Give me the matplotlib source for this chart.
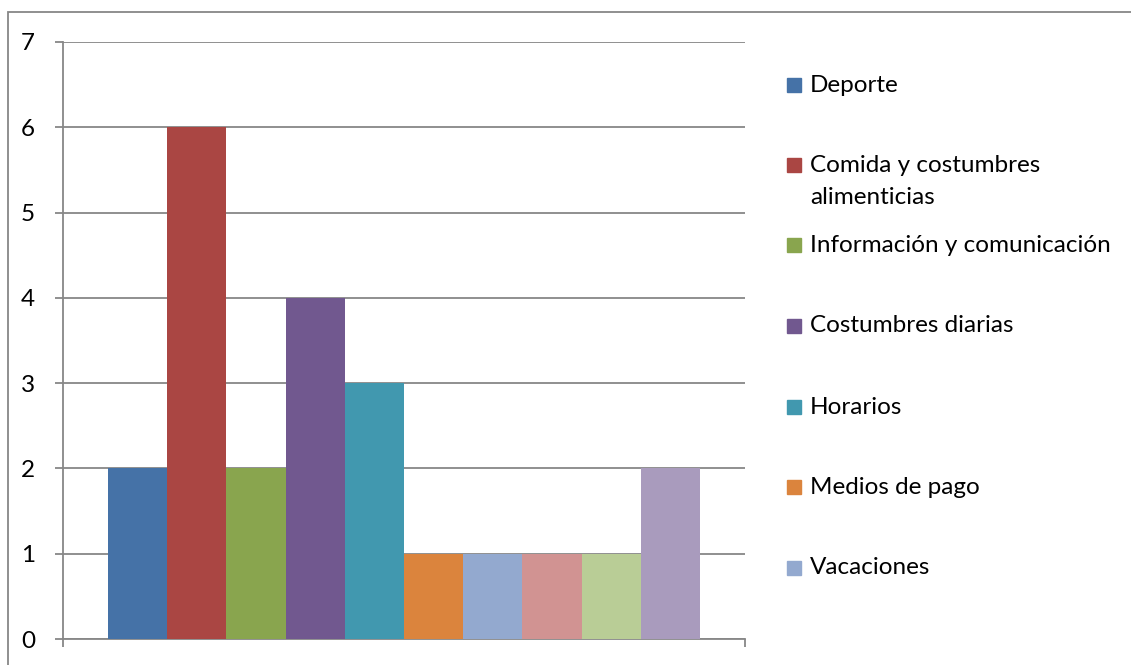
import matplotlib
matplotlib.use("Agg")
import matplotlib.pyplot as plt
from matplotlib.patches import Rectangle
import numpy as np

plt.rcParams['font.family'] = ['Lato', 'DejaVu Sans']

# one bar per topic, counts
values = [2, 6, 2, 4, 3, 1, 1, 1, 1, 2]
colors = ['#4572A7', '#AA4643', '#89A54E', '#71588F', '#4198AF',
          '#DB843D', '#93A9CF', '#D19392', '#B9CD96', '#A99BBD']
legend_labels = ['Deporte', 'Comida y costumbres\nalimenticias',
                 'Información y comunicación', 'Costumbres diarias',
                 'Horarios', 'Medios de pago', 'Vacaciones']
yticks = [0, 1, 2, 3, 4, 5, 6, 7]

W, H = 1131, 665
fig = plt.figure(figsize=(W / 100, H / 100), dpi=100)
ax = fig.add_axes([63 / W, 1 - 639 / H, (745 - 63) / W, (639 - 42) / H])

grey = '#878787'
fs = 17.5
x = np.arange(len(values))
ax.bar(x, values, width=1.0, color=colors, zorder=3)

ax.set_xlim(-1.26, len(values) - 1 + 1.26)
ax.set_ylim(0, 7)
ax.set_yticks(yticks)
ax.yaxis.grid(True, color=grey, lw=1.3, zorder=0)
ax.set_xticks(ax.get_xlim())
ax.set_xticklabels([])

for s in ['top', 'right']:
    ax.spines[s].set_visible(False)
for s in ['left', 'bottom']:
    ax.spines[s].set_color(grey)
    ax.spines[s].set_linewidth(1.3)
ax.tick_params(axis='y', direction='out', length=6, width=1.3, color=grey,
               pad=14, labelsize=fs)
ax.tick_params(axis='x', direction='out', length=6, width=1.3, color=grey)

# legend drawn by hand so every entry keeps the same row pitch
rows_y = [85, 165, 245, 326, 407, 487, 568]
for lab, c, yy in zip(legend_labels, colors, rows_y):
    fig.patches.append(Rectangle((787 / W, 1 - (yy + 7) / H), 14 / W, 14 / H,
                                 transform=fig.transFigure, color=c))
    for i, line in enumerate(lab.split('\n')):
        fig.text(810 / W, 1 - (yy + 32 * i) / H, line, fontsize=fs,
                 va='center', ha='left')

# outer chart frame
fig.patches.append(Rectangle((8 / W, -0.1), 1.2, 1 - 12 / H + 0.1,
                             transform=fig.transFigure, fill=False,
                             edgecolor=grey, lw=1.3))

fig.savefig('out.png', dpi=100)
